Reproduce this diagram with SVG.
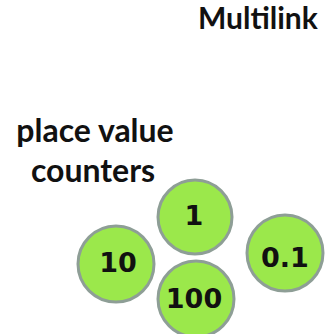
<svg xmlns="http://www.w3.org/2000/svg" width="329" height="334" viewBox="0 0 329 334">
<style>
.t{font-family:Lato,"Open Sans",sans-serif;font-weight:bold;fill:#111}
.c{fill:#9be84b;stroke:#8e9e96;stroke-width:3}
.n{font-family:"DejaVu Sans",sans-serif;font-weight:bold;font-size:27px;fill:#111;text-anchor:middle}
</style>
<rect width="329" height="334" fill="#fff"/>
<text class="t" x="198" y="29" font-size="30">Multilink</text>
<text class="t" x="95" y="142" font-size="32" text-anchor="middle">place value</text>
<text class="t" x="93" y="182" font-size="32" text-anchor="middle">counters</text>
<g id="c1"><circle class="c" cx="195" cy="217" r="37"/><text class="n" x="194" y="225">1</text></g>
<g id="c10"><circle class="c" cx="116" cy="264" r="38"/><text class="n" x="118" y="272">10</text></g>
<g id="c100"><circle class="c" cx="196" cy="299" r="38"/><text class="n" x="194" y="308">100</text></g>
<g id="c01"><circle class="c" cx="285" cy="253" r="38"/><text class="n" x="285" y="267">0.1</text></g>
</svg>
